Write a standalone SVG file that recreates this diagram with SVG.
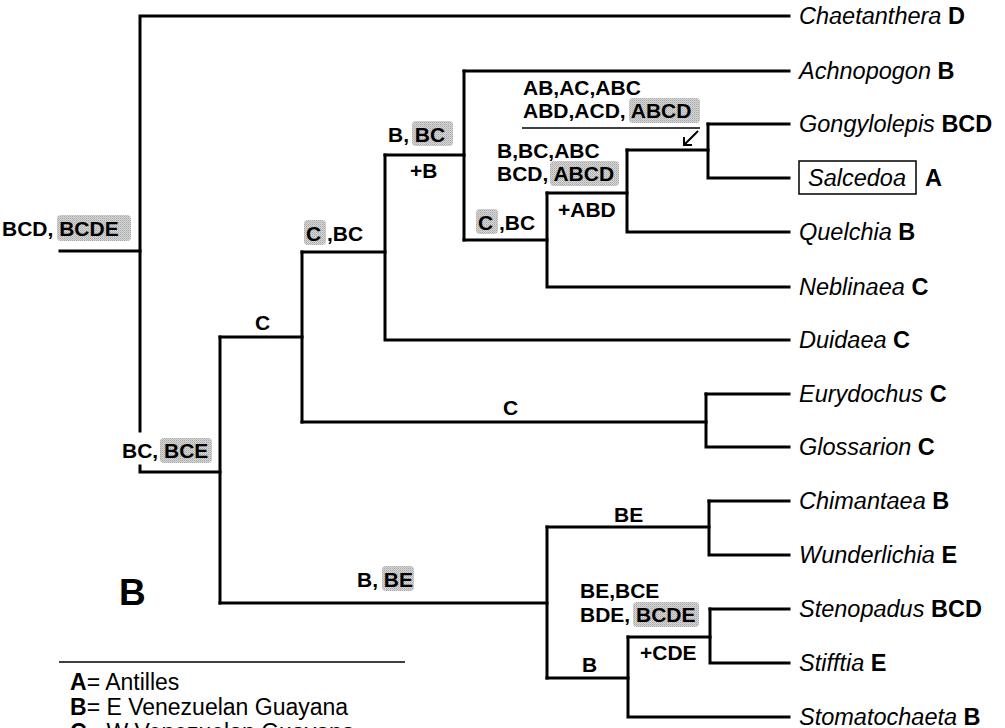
<svg xmlns="http://www.w3.org/2000/svg" width="1005" height="728" viewBox="0 0 1005 728">
<style>
.br{fill:none;stroke:#000;stroke-width:3;stroke-linecap:square}
.lf{font-family:"Liberation Sans",Arial,sans-serif;font-size:23.5px;fill:#000}
.it{font-style:italic}
.bd{font-weight:bold}
.lb{font-family:"Liberation Sans",Arial,sans-serif;font-size:21px;font-weight:bold;fill:#000}
.hl{fill:url(#stip)}
.lg{font-family:"Liberation Sans",Arial,sans-serif;font-size:23px;fill:#000}
</style>
<defs>
<pattern id="stip" width="2" height="2" patternUnits="userSpaceOnUse">
<rect width="2" height="2" fill="#d6d6d6"/>
<rect width="1" height="1" fill="#a8a8a8"/>
<rect x="1" y="1" width="1" height="1" fill="#bdbdbd"/>
</pattern>
</defs>
<rect width="1005" height="728" fill="#fff"/>
<g id="connectors" class="br">
<path d="M60,251 H140"/>
<path d="M140,431 V16 H789"/>
<path d="M140,466 V472 H220"/>
<path d="M220,337 V603"/>
<path d="M220,337 H302"/>
<path d="M302,252 V422"/>
<path d="M302,252 H385"/>
<path d="M385,155 V340 H789"/>
<path d="M385,155 H464"/>
<path d="M464,71 V240"/>
<path d="M464,71 H789"/>
<path d="M464,240 H547"/>
<path d="M547,193 V287 H789"/>
<path d="M547,193 H627"/>
<path d="M627,150 V232 H789"/>
<path d="M627,150 H708"/>
<path d="M708,124 V178 H789"/>
<path d="M708,124 H789"/>
<path d="M302,422 H706"/>
<path d="M706,394 V447 H789"/>
<path d="M706,394 H789"/>
<path d="M220,603 H547"/>
<path d="M547,527 V678"/>
<path d="M547,527 H709"/>
<path d="M709,501 V555 H789"/>
<path d="M709,501 H789"/>
<path d="M547,678 H628"/>
<path d="M628,637 V717 H789"/>
<path d="M628,637 H710"/>
<path d="M710,609 V663 H789"/>
<path d="M710,609 H789"/>
</g>
<g id="leaf-chaetanthera"><text class="lf" x="799" y="24"><tspan class="it">Chaetanthera</tspan> <tspan class="bd">D</tspan></text></g>
<g id="leaf-achnopogon"><text class="lf" x="799" y="79"><tspan class="it">Achnopogon</tspan> <tspan class="bd">B</tspan></text></g>
<g id="leaf-gongylolepis"><text class="lf" x="799" y="132"><tspan class="it">Gongylolepis</tspan> <tspan class="bd">BCD</tspan></text></g>
<g id="leaf-salcedoa"><rect x="799" y="161" width="117" height="33" fill="none" stroke="#000" stroke-width="1.5"/><text class="lf it" x="808" y="186">Salcedoa</text><text class="lf bd" x="925" y="186">A</text></g>
<g id="leaf-quelchia"><text class="lf" x="799" y="240"><tspan class="it">Quelchia</tspan> <tspan class="bd">B</tspan></text></g>
<g id="leaf-neblinaea"><text class="lf" x="799" y="295"><tspan class="it">Neblinaea</tspan> <tspan class="bd">C</tspan></text></g>
<g id="leaf-duidaea"><text class="lf" x="799" y="348"><tspan class="it">Duidaea</tspan> <tspan class="bd">C</tspan></text></g>
<g id="leaf-eurydochus"><text class="lf" x="799" y="402"><tspan class="it">Eurydochus</tspan> <tspan class="bd">C</tspan></text></g>
<g id="leaf-glossarion"><text class="lf" x="799" y="455"><tspan class="it">Glossarion</tspan> <tspan class="bd">C</tspan></text></g>
<g id="leaf-chimantaea"><text class="lf" x="799" y="509"><tspan class="it">Chimantaea</tspan> <tspan class="bd">B</tspan></text></g>
<g id="leaf-wunderlichia"><text class="lf" x="799" y="563"><tspan class="it">Wunderlichia</tspan> <tspan class="bd">E</tspan></text></g>
<g id="leaf-stenopadus"><text class="lf" x="799" y="617"><tspan class="it">Stenopadus</tspan> <tspan class="bd">BCD</tspan></text></g>
<g id="leaf-stifftia"><text class="lf" x="799" y="671"><tspan class="it">Stifftia</tspan> <tspan class="bd">E</tspan></text></g>
<g id="leaf-stomatochaeta"><text class="lf" x="799" y="725"><tspan class="it">Stomatochaeta</tspan> <tspan class="bd">B</tspan></text></g>

<g id="node-root"><rect class="hl" x="57" y="215" width="74" height="26" rx="4"/><text class="lb" x="2" y="236">BCD, BCDE</text></g>
<g id="node-bc-bce"><rect class="hl" x="160" y="438" width="52" height="25" rx="4"/><text class="lb" x="122" y="458">BC, BCE</text></g>
<g id="node-c1"><text class="lb" x="255" y="330">C</text></g>
<g id="node-c-bc1"><rect class="hl" x="304" y="220" width="22" height="25" rx="4"/><text class="lb" x="306" y="241">C ,BC</text></g>
<g id="node-b-bc"><rect class="hl" x="412" y="121" width="41" height="25" rx="4"/><text class="lb" x="388" y="142">B, BC</text><text class="lb" x="410" y="178">+B</text></g>
<g id="node-abcd-top"><rect class="hl" x="629" y="98" width="71" height="25" rx="4"/><text class="lb" x="523" y="95">AB,AC,ABC</text><text class="lb" x="523" y="118">ABD,ACD, ABCD</text>
<path d="M522,128 H700" stroke="#000" stroke-width="1.5" fill="none"/>
<path d="M698,131 L684,145 M684,137 V145 H692" stroke="#000" stroke-width="2" fill="none"/></g>
<g id="node-abcd-mid"><rect class="hl" x="550" y="161" width="69" height="25" rx="4"/><text class="lb" x="497" y="158">B,BC,ABC</text><text class="lb" x="497" y="181">BCD, ABCD</text><text class="lb" x="558" y="217">+ABD</text></g>
<g id="node-c-bc2"><rect class="hl" x="476" y="209" width="22" height="25" rx="4"/><text class="lb" x="478" y="230">C ,BC</text></g>
<g id="node-c2"><text class="lb" x="503" y="415">C</text></g>
<g id="node-be"><text class="lb" x="614" y="522">BE</text></g>
<g id="node-b-be"><rect class="hl" x="382" y="566" width="32" height="25" rx="4"/><text class="lb" x="357" y="587">B, BE</text></g>
<g id="node-bcde"><rect class="hl" x="633" y="602" width="66" height="25" rx="4"/><text class="lb" x="580" y="598">BE,BCE</text><text class="lb" x="580" y="622">BDE, BCDE</text><text class="lb" x="640" y="660">+CDE</text></g>
<g id="node-b"><text class="lb" x="582" y="672">B</text></g>
<g id="panel-label"><text x="119" y="605" font-family="Liberation Sans,Arial,sans-serif" font-size="37" font-weight="bold">B</text></g>
<g id="legend">
<path d="M59,662 H405" stroke="#000" stroke-width="1.5"/>
<text class="lg" x="70" y="690"><tspan font-weight="bold">A</tspan>= Antilles</text>
<text class="lg" x="70" y="715"><tspan font-weight="bold">B</tspan>= E Venezuelan Guayana</text>
<text class="lg" x="70" y="740"><tspan font-weight="bold">C</tspan>= W Venezuelan Guayana</text>
</g>
</svg>
